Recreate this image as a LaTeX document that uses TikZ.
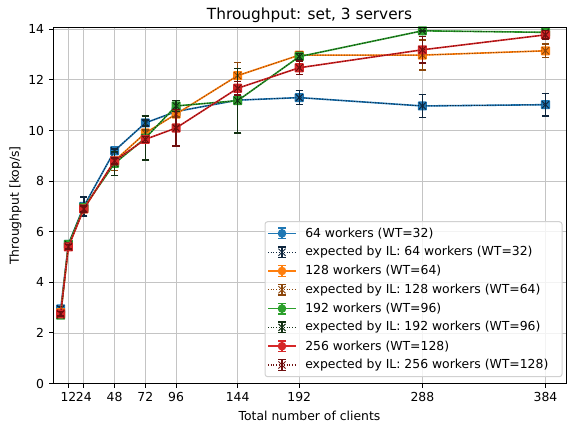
\documentclass[tikz,border=0pt]{standalone}
\usepackage{fontspec}
\setmainfont{DejaVu Sans}
\usetikzlibrary{arrows.meta,shapes.misc}
\definecolor{c64}{HTML}{1F77B4}
\definecolor{c128}{HTML}{FF7F0E}
\definecolor{c192}{HTML}{2CA02C}
\definecolor{c256}{HTML}{D62728}
\definecolor{d64}{RGB}{14,38,62}
\definecolor{d128}{RGB}{140,70,10}
\definecolor{d192}{RGB}{18,48,18}
\definecolor{d256}{RGB}{110,14,14}
\definecolor{gridgray}{HTML}{C4C4C4}
\tikzset{
  gridline/.style={draw=gridgray,line width=0.6pt},
  spine/.style={draw=black,line width=0.75pt},
  ticklbl/.style={inner sep=0pt,font=\fontsize{9.3}{11}\selectfont},
  mainline/.style={line width=1.2pt,line join=round},
  expline/.style={line width=0.7pt,dash pattern=on 0.8pt off 1.2pt},
  errbar/.style={line width=1.1pt,{Bar[width=5.5pt]}-{Bar[width=5.5pt]}},
  sqmark/.style={rectangle,rounded corners=0.6pt,minimum size=6.8pt,inner sep=0pt},
  dotmark/.style={circle,minimum size=6.5pt,inner sep=0pt},
  xmark/.style={cross out,draw,minimum size=4.6pt,inner sep=0pt,line width=0.7pt},
  legframe/.style={draw=black!18,fill=white,fill opacity=0.8,rounded corners=2pt,line width=0.75pt},
  legtext/.style={anchor=west,inner sep=0pt,font=\fontsize{9.3}{11}\selectfont}
}
% #1 clients/throughput/error list, #2 measured colour, #3 expected colour
\newcommand{\plotseries}[3]{
  \draw[mainline,#2] (6,2.8) \foreach \x/\y/\e in {#1} {-- (\x,\y)};
  \foreach \x/\y/\e in {#1} {
    \draw[errbar,#2] (\x,\y-\e) -- (\x,\y+\e);
    \node[sqmark,fill=#2] (m-#2-\x) at (\x,\y) {};
  }
  \draw[expline,#3] (6,2.8) \foreach \x/\y/\e in {#1} {-- (\x,\y)};
  \foreach \x/\y/\e in {#1} {
    \draw[errbar,#3] (\x,\y-\e) -- (\x,\y+\e);
    \node[xmark,draw=#3] (x-#3-\x) at (\x,\y) {};
  }
}

\begin{document}
\begin{tikzpicture}[x=0.75pt,y=-0.75pt]
  \useasboundingbox (0,0) rectangle (567,428);
  \node[font=\fontsize{11.5}{13}\selectfont] (title) at (309.5,15) {Throughput: set, 3 servers};
  \node[ticklbl] (xlabel) at (309.5,415.5) {Total number of clients};
  \node[ticklbl,rotate=90] (ylabel) at (15.5,205.5) {Throughput [kop/s]};
  \begin{scope}[shift={(53,383.5)}]
  \begin{scope}[x=0.9619pt,y=18.975pt]
    % grid
    \foreach \t in {12,24,48,72,96,144,192,288,384}
      \draw[gridline] (\t,0) -- (\t,14.07);
    \foreach \v in {2,4,...,14}
      \draw[gridline] (0,\v) -- (400,\v);
    % series
    \plotseries{6/2.95/0.12, 12/5.5/0.1, 24/7.0/0.4, 48/9.2/0.1, 72/10.3/0.15, 96/10.75/0.1, 144/11.2/0.12, 192/11.3/0.3, 288/10.97/0.48, 384/11.02/0.47}{c64}{d64}
    \plotseries{6/2.8/0.1, 12/5.42/0.12, 24/6.9/0.15, 48/8.8/0.4, 72/9.9/0.15, 96/10.65/0.15, 144/12.17/0.55, 192/12.98/0.15, 288/12.98/0.62, 384/13.15/0.3}{c128}{d128}
    \plotseries{6/2.7/0.1, 12/5.5/0.1, 24/6.95/0.1, 48/8.7/0.5, 72/9.7/0.9, 96/10.97/0.25, 144/11.18/1.3, 192/12.92/0.15, 288/13.94/0.05, 384/13.88/0.05}{c192}{d192}
    \plotseries{6/2.75/0.12, 12/5.4/0.12, 24/6.9/0.15, 48/8.8/0.15, 72/9.65/0.15, 96/10.1/0.75, 144/11.67/0.3, 192/12.48/0.3, 288/13.19/0.55, 384/13.78/0.2}{c256}{d256}
    % axes
    \draw[spine] (0,0) rectangle (400,14.07);
    \foreach \t in {12,24,48,72,96,144,192,288,384} {
      \draw[spine] (\t,0) -- ++(0,-3.2pt);
      \node[ticklbl,anchor=north,yshift=-6.3pt] (xt-\t) at (\t,0) {\t};
    }
    \foreach \v in {0,2,...,14} {
      \draw[spine] (0,\v) -- ++(-3.2pt,0);
      \node[ticklbl,anchor=east,xshift=-6.5pt] (yt-\v) at (0,\v) {\v};
    }
  \end{scope}
  \end{scope}
  % legend
  \draw[legframe] (265,221.7) rectangle (562,376.7);
  \foreach \k/\c/\d/\n/\w in {0/c64/d64/64/32,1/c128/d128/128/64,2/c192/d192/192/96,3/c256/d256/256/128} {
    \pgfmathsetmacro\ya{233.4+37.6*\k}
    \pgfmathsetmacro\yb{\ya+18.8}
    \draw[mainline,\c] (268,\ya) -- (296,\ya);
    \draw[errbar,\c] (282,\ya-6) -- (282,\ya+6);
    \node[dotmark,fill=\c] (lm-\n) at (282,\ya) {};
    \node[legtext] (lt-\n) at (305,\ya) {\n{} workers (WT=\w)};
    \draw[expline,\d,line width=1pt] (268,\yb) -- (296,\yb);
    \draw[errbar,\d] (282,\yb-6) -- (282,\yb+6);
    \node[xmark,draw=\d] (lx-\n) at (282,\yb) {};
    \node[legtext] (le-\n) at (305,\yb) {expected by IL: \n{} workers (WT=\w)};
  }
\end{tikzpicture}
\end{document}
